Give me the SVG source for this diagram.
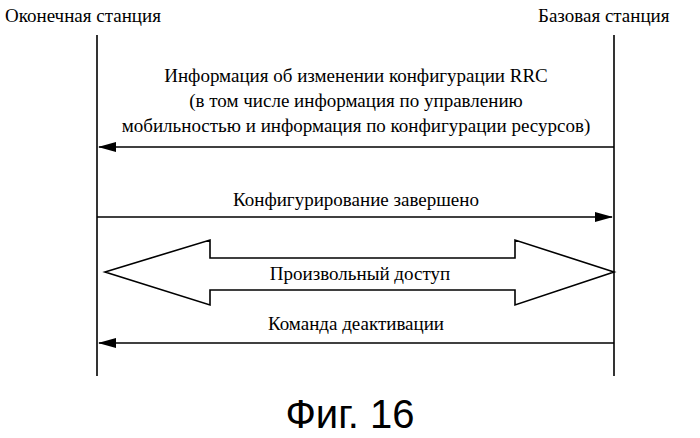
<svg xmlns="http://www.w3.org/2000/svg" width="700" height="438" viewBox="0 0 700 438">
<defs>
<style>
.t{font-family:'Liberation Serif','DejaVu Serif',serif;font-size:19px;fill:#000}
.l{stroke:#000;stroke-width:1.6;fill:none}
</style>
<marker id="a" markerWidth="18" markerHeight="10" refX="17" refY="5" orient="auto" markerUnits="userSpaceOnUse">
<path d="M0,0 L18,5 L0,10 Z" fill="#000"/>
</marker>
</defs>
<rect width="700" height="438" fill="#fff"/>
<g id="terminal">
<text class="t" x="5" y="22">Оконечная станция</text>
<line class="l" x1="97" y1="35" x2="97" y2="376"/>
</g>
<g id="base">
<text class="t" x="538" y="22">Базовая станция</text>
<line class="l" x1="614" y1="35" x2="614" y2="376"/>
</g>
<g id="connectors">
<line class="l" x1="614" y1="147" x2="99" y2="147" marker-end="url(#a)"/>
<text class="t" text-anchor="middle" x="356" y="82">Информация об изменении конфигурации RRC</text>
<text class="t" text-anchor="middle" x="356" y="107">(в том числе информация по управлению</text>
<text class="t" text-anchor="middle" x="356" y="132">мобильностью и информация по конфигурации ресурсов)</text>
<line class="l" x1="97" y1="217" x2="612" y2="217" marker-end="url(#a)"/>
<text class="t" text-anchor="middle" x="356" y="206">Конфигурирование завершено</text>
<path class="l" d="M105,272 L210,240 L210,258 L515,258 L515,240 L614,272 L515,305 L515,290 L210,290 L210,305 Z"/>
<text class="t" text-anchor="middle" x="360" y="280">Произвольный доступ</text>
<line class="l" x1="614" y1="343" x2="99" y2="343" marker-end="url(#a)"/>
<text class="t" text-anchor="middle" x="356" y="330">Команда деактивации</text>
</g>
<text x="350" y="428" text-anchor="middle" style="font-family:'Liberation Sans',Arial,sans-serif;font-size:40px">Фиг. 16</text>
</svg>
